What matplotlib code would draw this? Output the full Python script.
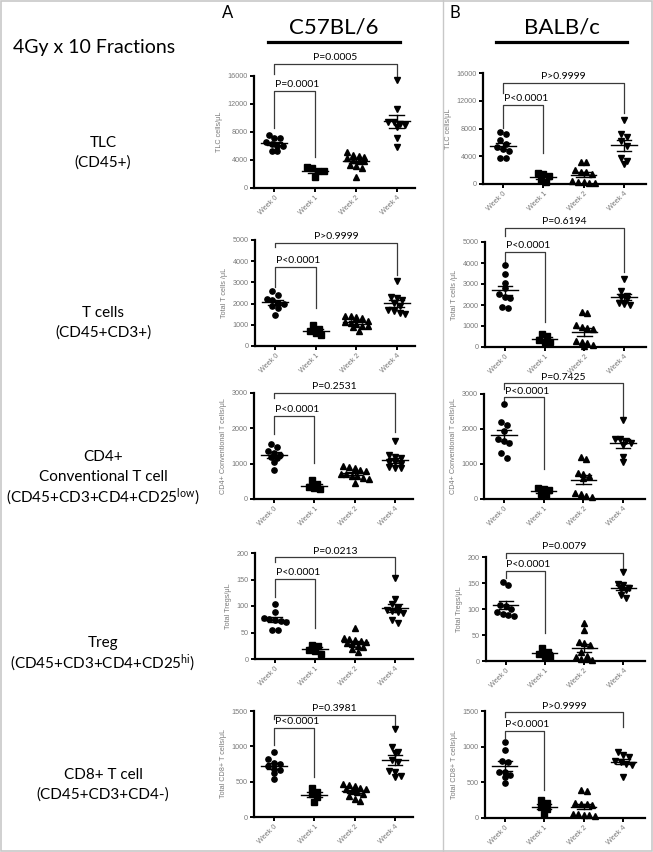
import numpy as np
import matplotlib
matplotlib.use("Agg")
import matplotlib.pyplot as plt
from matplotlib.lines import Line2D
from matplotlib.patches import Rectangle

W, H = 653, 852
plt.rcParams['font.family'] = ['Lato', 'DejaVu Sans']
plt.rcParams['mathtext.fontset'] = 'custom'
plt.rcParams['mathtext.rm'] = 'Lato'
plt.rcParams['mathtext.it'] = 'Lato:italic'

# ---------------- data ----------------
weeks = ["Week 0", "Week 1", "Week 2", "Week 4"]
strains = ["C57BL/6", "BALB/c"]
panel_letters = ["A", "B"]
y_labels = ["TLC cells/\u03bcL", "Total T cells /\u03bcL", "CD4+ Conventional T cells/\u03bcL",
            "Total Tregs/\u03bcL", "Total CD8+ T cells/\u03bcL"]
y_max = [16000, 5000, 3000, 200, 1500]
y_step = [4000, 1000, 1000, 50, 500]

tlc_c57 = [[7600, 7100, 7100, 6600, 6300, 6000, 6000, 5300, 5300],
           [3000, 2800, 2450, 2400, 1550],
           [5100, 4700, 4600, 4500, 4300, 4000, 3900, 3800, 3300, 3200, 2800, 1600],
           [15500, 11300, 9500, 9400, 9200, 9000, 8700, 7100, 5900]]
tlc_balb = [[7500, 7200, 6300, 5800, 5400, 5000, 4700, 3700, 3700],
            [1600, 1500, 1100, 600, 300],
            [3100, 3100, 2000, 1800, 1700, 1500, 400, 300, 300, 200, 200],
            [9200, 7200, 6800, 6200, 5500, 3700, 3300, 2900]]
tcell_c57 = [[2600, 2400, 2200, 2150, 2050, 2000, 1900, 1800, 1450],
             [1000, 800, 700, 600, 500],
             [1400, 1400, 1350, 1300, 1200, 1150, 1100, 1050, 950, 950, 900, 700],
             [3050, 2300, 2250, 2150, 2050, 1900, 1700, 1650, 1550, 1500]]
tcell_balb = [[3900, 3500, 3050, 2800, 2500, 2400, 2350, 1900, 1850],
              [600, 500, 350, 250, 250],
              [1650, 1600, 1050, 950, 900, 850, 300, 250, 200, 100, 50],
              [3250, 2650, 2450, 2400, 2300, 2100, 2050, 2000]]
cd4_c57 = [[1570, 1480, 1350, 1300, 1250, 1200, 1150, 1050, 820],
           [550, 430, 350, 300, 280],
           [920, 900, 880, 820, 800, 720, 700, 660, 650, 600, 580, 460],
           [1640, 1250, 1200, 1150, 1050, 1050, 1000, 900, 880, 870]]
cd4_balb = [[2700, 2200, 2100, 1950, 1700, 1650, 1600, 1300, 1180],
            [300, 280, 250, 140, 120],
            [1200, 1150, 750, 700, 650, 600, 180, 150, 80, 60],
            [2270, 1700, 1700, 1650, 1600, 1550, 1200, 1050]]
treg_c57 = [[104, 88, 78, 75, 73, 72, 70, 55, 54],
            [27, 25, 17, 15, 10],
            [59, 40, 38, 36, 34, 32, 30, 28, 25, 22, 18, 14],
            [153, 114, 103, 96, 93, 91, 89, 86, 74, 67]]
treg_balb = [[151, 146, 108, 105, 100, 94, 90, 88, 87],
             [25, 18, 14, 9, 8],
             [74, 59, 36, 34, 30, 18, 10, 8, 4, 3, 2],
             [172, 148, 147, 140, 138, 136, 126, 122]]
cd8_c57 = [[920, 820, 760, 750, 720, 680, 670, 620, 540],
           [410, 360, 320, 290, 210],
           [470, 450, 440, 410, 400, 390, 370, 350, 330, 300, 260, 230],
           [1250, 990, 920, 900, 810, 780, 650, 640, 580, 570]]
cd8_balb = [[1070, 960, 800, 780, 650, 640, 600, 570, 490],
            [250, 210, 160, 120, 60],
            [390, 380, 210, 200, 190, 180, 60, 50, 40, 40, 30],
            [920, 890, 850, 800, 780, 760, 740, 570]]

row_data = [[tlc_c57, tlc_balb], [tcell_c57, tcell_balb], [cd4_c57, cd4_balb],
            [treg_c57, treg_balb], [cd8_c57, cd8_balb]]

p_outer = [["P=0.0005", "P>0.9999"], ["P>0.9999", "P=0.6194"], ["P=0.2531", "P=0.7425"],
           ["P=0.0213", "P=0.0079"], ["P=0.3981", "P>0.9999"]]
p_inner = [["P=0.0001", "P<0.0001"], ["P<0.0001", "P<0.0001"], ["P<0.0001", "P<0.0001"],
           ["P<0.0001", "P<0.0001"], ["P<0.0001", "P<0.0001"]]

row_titles = [["TLC", "(CD45+)"],
              ["T cells", "(CD45+CD3+)"],
              ["CD4+", "Conventional T cell", r"(CD45+CD3+CD4+CD25$^{\mathrm{low}}$)"],
              ["Treg", r"(CD45+CD3+CD4+CD25$^{\mathrm{hi}}$)"],
              ["CD8+ T cell", "(CD45+CD3+CD4-)"]]

# ---------------- layout (pixels) ----------------
axes_px = [[(254, 415, 76, 188), (483, 646, 73, 184)],
           [(255, 415, 240, 346), (485, 646, 242, 347)],
           [(254, 413, 393, 499), (484, 645, 394, 499)],
           [(255, 413, 553, 659), (486, 645, 557, 661)],
           [(254, 413, 711, 817), (485, 645, 711, 818)]]
# bracket geometry in data units: outer top, outer left foot, outer right foot,
# inner top, inner left foot, inner right foot
brackets = [[(17700, 16300, 15900, 13860, 8570, 4430), (14580, 13140, 10250, 11410, 8090, 4480)],
            [(4860, 4650, 3350, 3730, 2780, 1790), (5670, 5300, 3570, 4520, 4050, 1190)],
            [(3000, 2850, 1900, 2350, 1840, 1020), (3300, 3150, 2350, 2900, 2800, 850)],
            [(192, 183, 158, 151, 117, 58), (208, 198, 177, 173, 160, 54)],
            [(1445, 1380, 1290, 1260, 1020, 567), (1480, 1420, 1270, 1225, 1125, 395)]]
title_y = [[143, 163], [313, 333], [457, 477, 497], [643, 663], [775, 795]]
markers = ['o', 's', '^', 'v']

fig = plt.figure(figsize=(W / 100, H / 100), dpi=100)
fig.patch.set_facecolor('white')


def fx(x):
    return x / W


def fy(y):
    return 1 - y / H


def swarm(vals, ymax, px_h, dx=0.14):
    vals = np.asarray(vals, float)
    order = np.argsort(-vals)
    thr = ymax * 5.0 / px_h
    xs = np.zeros(len(vals))
    rows = []
    cur = [order[0]]
    for i in order[1:]:
        if vals[cur[0]] - vals[i] < thr:
            cur.append(i)
        else:
            rows.append(cur)
            cur = [i]
    rows.append(cur)
    for r in rows:
        n = len(r)
        offs = (np.arange(n) - (n - 1) / 2) * dx
        for k, idx in enumerate(r):
            xs[idx] = offs[k]
    return xs


gray_txt = '#7a7a7a'
for r in range(5):
    for c in range(2):
        l, rr, t, b = axes_px[r][c]
        ax = fig.add_axes([fx(l), fy(b), (rr - l) / W, (b - t) / H])
        ax.set_xlim(-0.5, 3.45 if c == 0 else 3.55)
        ax.set_ylim(0, y_max[r])
        for s in ['top', 'right']:
            ax.spines[s].set_visible(False)
        for s in ['left', 'bottom']:
            ax.spines[s].set_linewidth(1.6)
        ax.set_yticks(np.arange(0, y_max[r] + 1, y_step[r]))
        ax.set_xticks(range(4))
        ax.set_xticklabels(weeks, rotation=45, ha='right', va='top', rotation_mode='anchor',
                           fontsize=5.2, color=gray_txt, family='Liberation Sans')
        for lab in ax.get_yticklabels():
            lab.set_fontsize(5.2)
            lab.set_color(gray_txt)
            lab.set_family('Liberation Sans')
        ax.tick_params(axis='both', length=3, width=1.4, pad=1.5)
        ax.set_ylabel(y_labels[r], fontsize=5.2, color=gray_txt, family='Liberation Sans', labelpad=3)
        ax.patch.set_alpha(0)
        px_h = b - t
        for g in range(4):
            vals = np.asarray(row_data[r][c][g], float)
            xs = g + swarm(vals, y_max[r], px_h)
            ax.plot(xs, vals, linestyle='none', marker=markers[g], markersize=3.8,
                    color='black', clip_on=False, zorder=3)
            m = vals.mean()
            se = vals.std(ddof=1) / np.sqrt(len(vals))
            ax.plot([g - 0.32, g + 0.32], [m, m], color='black', lw=1.0, zorder=4)
            ax.plot([g - 0.18, g + 0.18], [m + se, m + se], color='black', lw=1.0, zorder=4)
            ax.plot([g - 0.18, g + 0.18], [m - se, m - se], color='black', lw=1.0, zorder=4)
            ax.plot([g, g], [m - se, m + se], color='black', lw=1.0, zorder=4)
        ot, olb, orb, it, ilb, irb = brackets[r][c]
        ax.plot([0, 0, 3, 3], [olb, ot, ot, orb], color='#3a3a3a', lw=0.9, clip_on=False)
        ax.plot([0, 0, 1, 1], [ilb, it, it, irb], color='#3a3a3a', lw=0.9, clip_on=False)
        ax.annotate(p_outer[r][c], (1.5, ot), xytext=(0, 1.2), textcoords='offset points',
                    ha='center', va='bottom', fontsize=7.5, annotation_clip=False)
        ax.annotate(p_inner[r][c], (0.0, it), xytext=(0.5, 1.2), textcoords='offset points',
                    ha='left', va='bottom', fontsize=7.5, annotation_clip=False)

# headers
fig.text(fx(228), fy(13), panel_letters[0], fontsize=12, ha='center', va='center')
fig.text(fx(455), fy(13), panel_letters[1], fontsize=12, ha='center', va='center')
fig.text(fx(334), fy(28), strains[0], fontsize=16, ha='center', va='center')
fig.text(fx(562), fy(28), strains[1], fontsize=16, ha='center', va='center')
fig.add_artist(Line2D([fx(268), fx(400)], [fy(41.5), fy(41.5)], color='black', lw=2.3))
fig.add_artist(Line2D([fx(496), fx(627)], [fy(41.5), fy(41.5)], color='black', lw=2.3))
fig.text(fx(13), fy(48), "4Gy x 10 Fractions", fontsize=14, ha='left', va='center')

for r in range(5):
    for line, yy in zip(row_titles[r], title_y[r]):
        fig.text(fx(103), fy(yy), line, fontsize=11, ha='center', va='center')

# frame and divider
fig.add_artist(Line2D([fx(443), fx(443)], [0, 1], color='#c8c8c8', lw=1.0))
fig.add_artist(Rectangle((0.0008, 0.0008), 0.9984, 0.9984, transform=fig.transFigure,
                         fill=False, edgecolor='#c8c8c8', lw=1.2))

fig.savefig("out.png", dpi=100)
